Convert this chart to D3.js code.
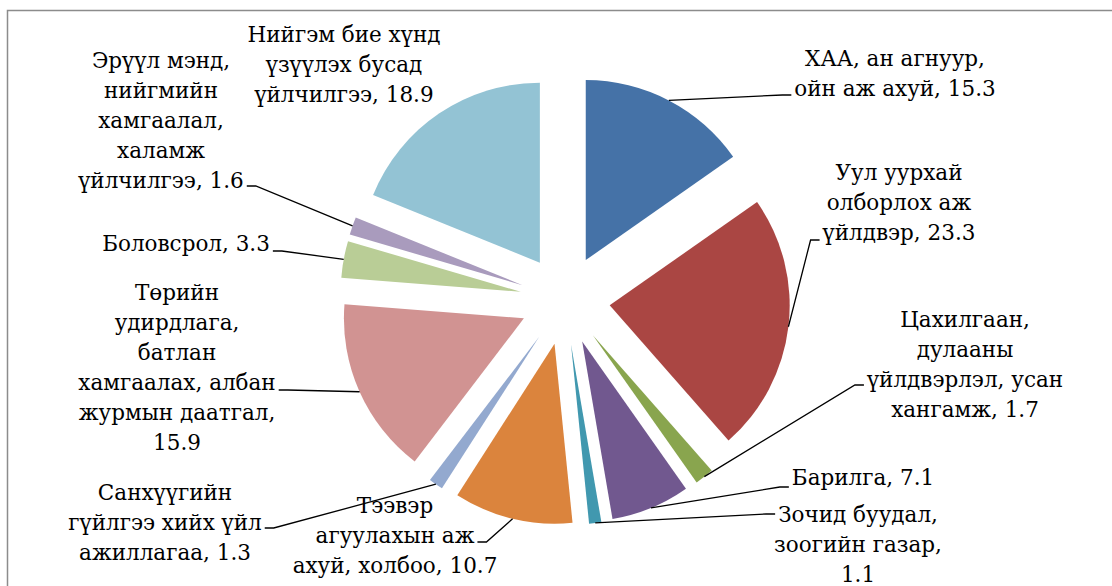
<!DOCTYPE html>
<html>
<head>
<meta charset="utf-8">
<script src="https://cdn.jsdelivr.net/npm/d3@7"></script>
<style>
  body { margin: 0; background: #fff; }
  text { font-family: "DejaVu Serif", serif; font-size: 21.5px; fill: #000; }
</style>
</head>
<body>
<svg class="piechart" width="1112" height="586"></svg>
<script>
// "|" marks a line break in the label, the value is added to the last line
var categories = [
  "ХАА, ан агнуур,|ойн аж ахуй",
  "Уул уурхай|олборлох аж|үйлдвэр",
  "Цахилгаан,|дулааны|үйлдвэрлэл, усан|хангамж",
  "Барилга",
  "Зочид буудал,|зоогийн газар,|",
  "Тээвэр|агуулахын аж|ахуй, холбоо",
  "Санхүүгийн|гүйлгээ хийх үйл|ажиллагаа",
  "Төрийн|удирдлага,|батлан|хамгаалах, албан|журмын даатгал,|",
  "Боловсрол",
  "Эрүүл мэнд,|нийгмийн|хамгаалал,|халамж|үйлчилгээ",
  "Нийгэм бие хүнд|үзүүлэх бусад|үйлчилгээ"
];
var values = [15.3, 23.3, 1.7, 7.1, 1.1, 10.7, 1.3, 15.9, 3.3, 1.6, 18.9];
var colors = ["#4572A7", "#AA4643", "#89A54E", "#71588F", "#4198AF", "#DB843D",
              "#93A9CF", "#D19392", "#B9CD96", "#A99BBD", "#93C3D4"];

// label layout: centre x, first baseline, y where the leader meets the label
var labelX  = [895, 899, 965, 863, 858, 395, 165, 177, 186, 161, 344];
var labelY  = [66, 180, 327, 485, 522, 513, 500, 300, 251, 68, 42];
var leaderY = [95, 240, 385, 487, 514, 542, 528, 390, 251, 186, null];
var lineH = 30;

var svg = d3.select(".piechart"),
    width = +svg.attr("width"),
    height = +svg.attr("height");

var cx = 565, cy = 300, radius = 180, explode = 45;

// chart area frame (runs off the right and bottom)
svg.append("rect")
    .attr("x", 7.5).attr("y", 10.5)
    .attr("width", width + 20).attr("height", height + 20)
    .style("fill", "none")
    .style("stroke", "#8c8c8c")
    .style("stroke-width", 1.5);

var data = values.map(function(v, i) {
  return {name: categories[i], value: v, color: colors[i], i: i};
});

var pie = d3.pie().sort(null).value(function(d) { return d.value; });
var arc = d3.arc().innerRadius(0).outerRadius(radius);
var arcs = pie(data);

function dir(d) {
  var a = (d.startAngle + d.endAngle) / 2;
  return [Math.sin(a), -Math.cos(a)];
}

var g = svg.append("g").attr("transform", "translate(" + cx + "," + cy + ")");

g.selectAll("path")
  .data(arcs)
  .enter().append("path")
    .attr("d", arc)
    .attr("transform", function(d) {
      var u = dir(d);
      return "translate(" + (u[0] * explode) + "," + (u[1] * explode) + ")";
    })
    .style("fill", function(d) { return d.data.color; });

var fmt = d3.format(".1f");

var labels = svg.append("g").selectAll("text")
  .data(arcs)
  .enter().append("text")
    .attr("text-anchor", "middle");

labels.each(function(d) {
  var i = d.data.i;
  var name = d.data.name;
  var full = name.endsWith("|") ? name + fmt(d.data.value) : name + ", " + fmt(d.data.value);
  var lines = full.split("|");
  d.lines = lines;
  d3.select(this).selectAll("tspan")
    .data(lines)
    .enter().append("tspan")
      .attr("x", labelX[i])
      .attr("y", function(l, k) { return labelY[i] + k * lineH; })
      .text(function(l) { return l; });
});

// leader lines: outer edge of the slice -> short stub -> label edge
var leaders = svg.append("g")
    .style("fill", "none")
    .style("stroke", "#000")
    .style("stroke-width", 1.3);

labels.each(function(d) {
  var i = d.data.i;
  if (leaderY[i] == null) return;
  var u = dir(d);
  var ax = cx + u[0] * (explode + radius),
      ay = cy + u[1] * (explode + radius);
  // line nearest to the leader
  var best = 0;
  d.lines.forEach(function(l, k) {
    if (Math.abs(labelY[i] + k * lineH - leaderY[i]) < Math.abs(labelY[i] + best * lineH - leaderY[i])) best = k;
  });
  var w = d3.select(this).selectAll("tspan").nodes()[best].getComputedTextLength();
  var left = labelX[i] > ax;
  var ex = left ? labelX[i] - w / 2 - 3 : labelX[i] + w / 2 + 3;
  var sx = left ? ex - 9 : ex + 9;
  leaders.append("polyline")
    .attr("points", [[ax, ay], [sx, leaderY[i]], [ex, leaderY[i]]].join(" "));
});
</script>
</body>
</html>
